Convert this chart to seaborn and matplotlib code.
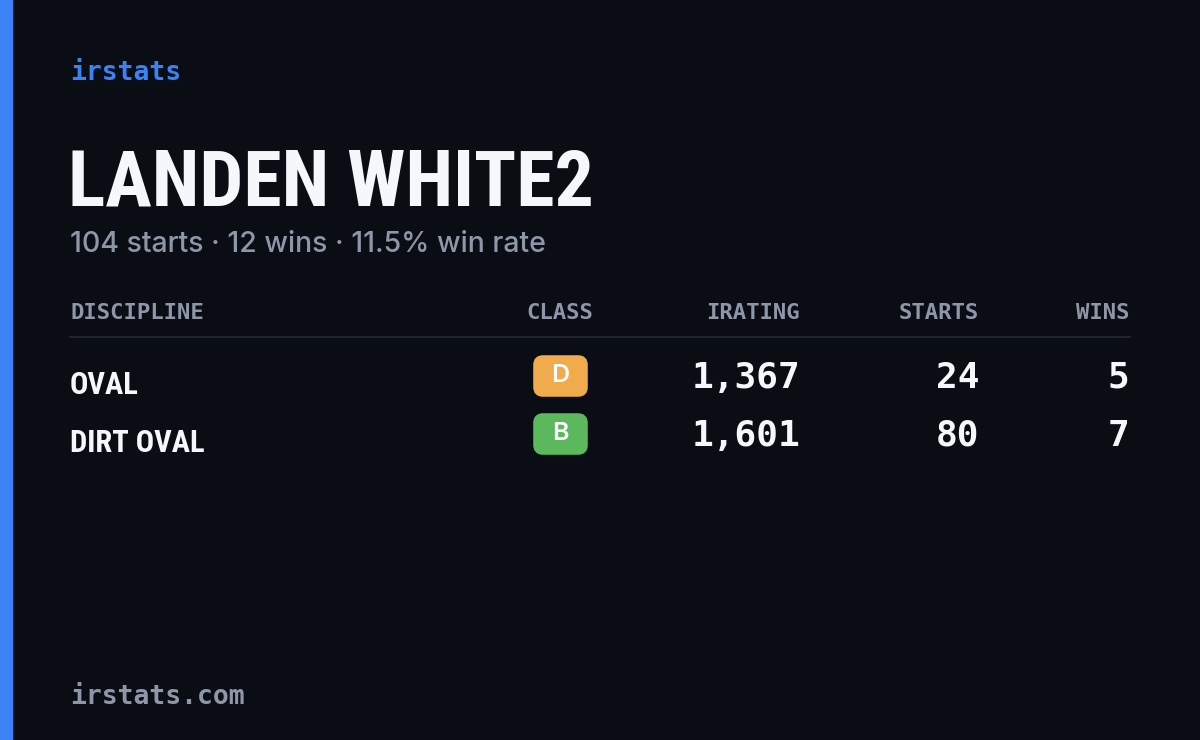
import matplotlib
matplotlib.use("Agg")
import matplotlib.pyplot as plt
import seaborn as sns
from matplotlib.patches import FancyBboxPatch, Rectangle
from matplotlib import font_manager as fm

brand = "irstats"
driver = "LANDEN WHITE2"
subtitle = "104 starts · 12 wins · 11.5% win rate"
headers = ["DISCIPLINE", "CLASS", "IRATING", "STARTS", "WINS"]
disciplines = ["OVAL", "DIRT OVAL"]
classes = ["D", "B"]
class_colors = ["#f0ab4c", "#5cb85c"]
iratings = [1367, 1601]
starts = [24, 80]
wins = [5, 7]
footer = "irstats.com"

names = {f.name for f in fm.fontManager.ttflist}
narrow_fam = None
for cand in ["Roboto Condensed", "Liberation Sans Narrow", "DejaVu Sans Condensed", "Open Sans Condensed"]:
    if cand in names:
        narrow_fam = cand
        break
condensed = [f for f in fm.fontManager.ttflist if f.stretch in ("condensed", "semi-condensed", "extra-condensed")]

sns.set_style("dark")
bg = "#0a0d14"
fig = plt.figure(figsize=(12, 7.4), dpi=100, facecolor=bg)
ax = fig.add_axes([0, 0, 1, 1])
ax.set_facecolor(bg)
ax.set_xlim(0, 1200); ax.set_ylim(740, 0); ax.axis("off")

mono = ["DejaVu Sans Mono"]
grey = "#8e97a8"
if narrow_fam:
    nkw = dict(family=[narrow_fam, "DejaVu Sans"], fontweight="bold")
    tsize, rsize = 56, 22
elif condensed:
    nkw = dict(family=[condensed[0].name], fontweight="bold", stretch="condensed")
    tsize, rsize = 56, 22
else:
    nkw = dict(family=["DejaVu Sans"], fontweight="bold")
    tsize, rsize = 40, 20

ax.add_patch(Rectangle((0, 0), 12, 740, color="#3b82f6"))
ax.text(70, 73, brand, family=mono, fontsize=19, color="#3b82f6", va="center", fontweight="semibold")
ax.text(68, 184, driver, fontsize=tsize, color="#f5f7fa", va="center", **nkw)
ax.text(70, 245, subtitle, family=["Inter", "DejaVu Sans"], fontsize=20.5, color=grey, va="center", fontweight="medium")

hx = [70, 560, 800, 979, 1129]
ha = ["left", "center", "right", "right", "right"]
for h, x, a in zip(headers, hx, ha):
    ax.text(x, 313, h, family=mono, fontsize=16, color=grey, ha=a, va="center", fontweight="semibold")
ax.plot([70, 1130], [337, 337], color="#1f2430", lw=1.5)

for i, (d, c, col, r, s, w) in enumerate(zip(disciplines, classes, class_colors, iratings, starts, wins)):
    y = 383 + i * 58
    ax.text(70, y + 2, d, fontsize=rsize, color="#f5f7fa", va="center", **nkw)
    ax.add_patch(FancyBboxPatch((536, y - 25), 49, 36, boxstyle="round,pad=0,rounding_size=7",
                                facecolor=col, edgecolor=col, lw=4))
    ax.text(560, y - 8, c, fontsize=18, color="white", ha="center", va="center",
            family=["Inter", "DejaVu Sans"], fontweight="semibold")
    for x, v in zip(hx[2:], [f"{r:,}", str(s), str(w)]):
        ax.text(x, y - 5, v, family=mono, fontsize=26, color="#f5f7fa", ha="right", va="center", fontweight="semibold")

ax.text(70, 697, footer, family=mono, fontsize=19, color=grey, va="center", fontweight="semibold")
fig.savefig("out.png", facecolor=bg)
